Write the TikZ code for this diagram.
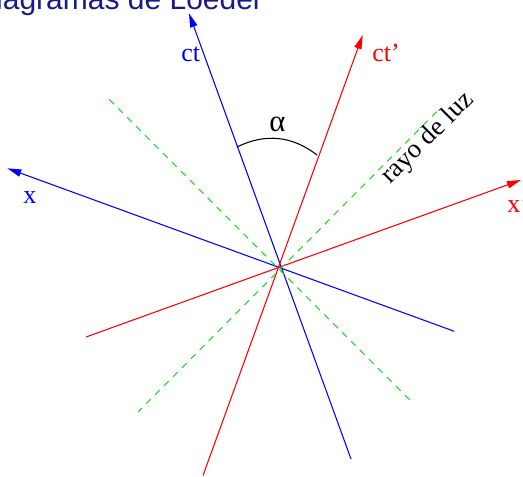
\documentclass[tikz,border=0pt]{standalone}
\usepackage{fontspec}
\setmainfont{Liberation Serif}
\newfontfamily\titlefont{Liberation Sans}
\usetikzlibrary{arrows.meta}
\definecolor{navy}{RGB}{25,25,140}
\definecolor{raygreen}{RGB}{30,215,30}
\tikzset{axisline/.style={line width=0.8pt,-{Triangle[length=10.5pt,width=5.5pt]}},
 lightray/.style={raygreen,line width=0.8pt,dash pattern=on 5pt off 4.5pt},
 lbl/.style={font=\fontsize{19.5}{19.5}\selectfont,inner sep=0pt,anchor=base west}}

\begin{document}
\begin{tikzpicture}[x=0.75pt,y=0.75pt]
 \clip (-280.5,-208) rectangle (242.5,268);
 \coordinate (O) at (0,0);
 % blue axes (ct, x) and red axes (ct', x')
 \coordinate (ct) at (-91.5,254.7); \coordinate (ctend) at (70.5,-191);
 \coordinate (ctp) at (82.2,233); \coordinate (ctpend) at (-77.5,-207.5);
 \coordinate (xx) at (-273.2,99.7); \coordinate (xxend) at (173.8,-63.3);
 \coordinate (xp) at (240.5,88); \coordinate (xpend) at (-194.5,-69);
 % light rays
 \coordinate (rayA) at (-171.2,168.7); \coordinate (rayAend) at (129.5,-132);
 \coordinate (rayB) at (156.2,156.3); \coordinate (rayBend) at (-142.5,-144);
 \draw[axisline,blue] (ctend) -- (ct);
 \draw[axisline,blue] (xxend) -- (xx);
 \draw[axisline,red] (ctpend) -- (ctp);
 \draw[axisline,red] (xpend) -- (xp);
 \draw[lightray] (rayA) -- (rayAend);
 \draw[lightray] (rayB) -- (rayBend);
 % angle between ct and ct'
 \coordinate (alphaL) at (-43.5,121); \coordinate (alphaR) at (36.5,113);
 \draw[line width=0.8pt] (alphaL) to[bend left=32] (alphaR);
 \node[lbl,anchor=base,font=\fontsize{23}{23}\selectfont] (alpha) at (-3,137) {α};
 \node[lbl,blue] (ctlbl) at (-99.5,207) {ct};
 \node[lbl,red] (ctplbl) at (91.5,207) {ct'};
 \node[lbl,blue] (xlbl) at (-257.5,65) {x};
 \node[lbl,red] (xplbl) at (226.5,56) {x'};
 \node[lbl,rotate=45,font=\fontsize{20}{20}\selectfont] (raylbl) at (110,83) {rayo de luz};
 \node[font=\titlefont\fontsize{22.5}{22.5}\selectfont,navy,inner sep=0pt,anchor=base east] (title) at (-20.5,259) {Diagramas de Loedel};
\end{tikzpicture}
\end{document}
